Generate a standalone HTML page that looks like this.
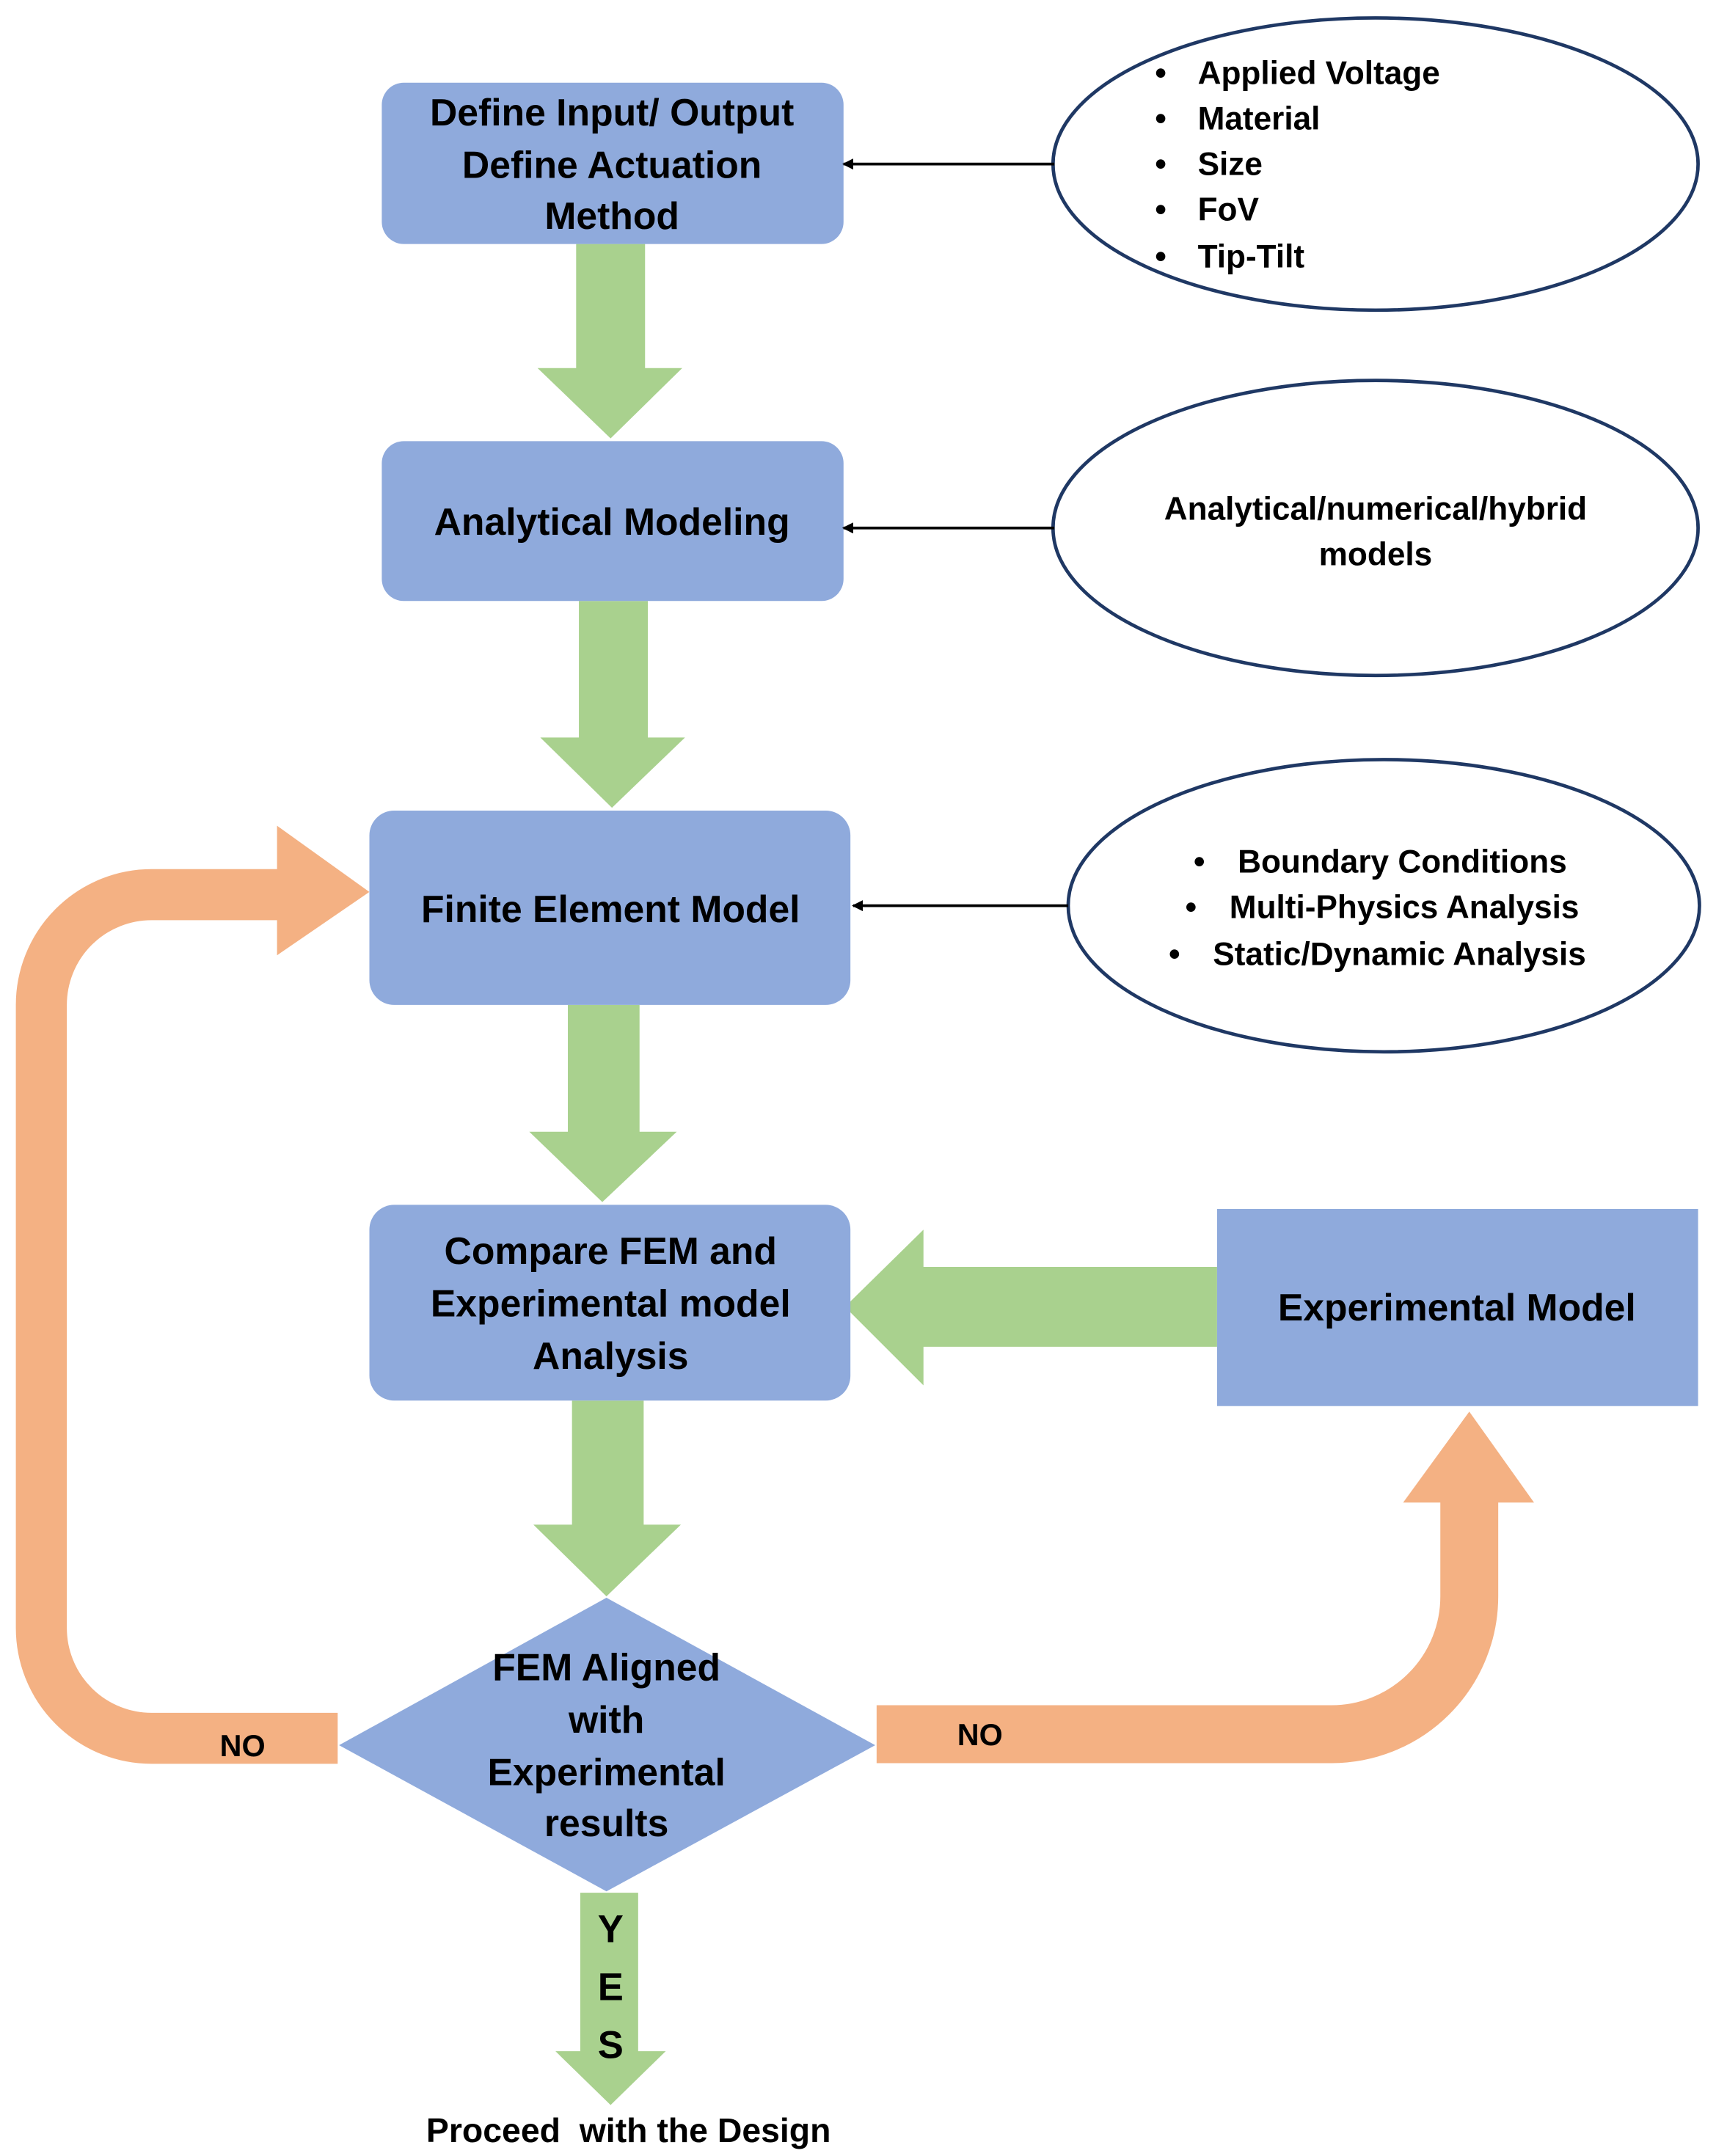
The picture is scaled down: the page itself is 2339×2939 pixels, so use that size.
<!DOCTYPE html>
<html><head><meta charset="utf-8"><style>
html,body{margin:0;padding:0;background:#fff}
svg{display:block}
text{font-family:"Liberation Sans",sans-serif;font-weight:bold;fill:#000}
</style></head><body>
<svg width="2339" height="2939" viewBox="0 0 1245 1564" preserveAspectRatio="none" xmlns="http://www.w3.org/2000/svg">
<defs><marker id="ah" markerWidth="8" markerHeight="8" refX="7" refY="4" orient="auto" markerUnits="userSpaceOnUse"><path d="M0,0 L8,4 L0,8 Z" fill="#000"/></marker></defs>
<path d="M245,1261 H110 A80 80 0 0 1 30,1181 V729 A80 80 0 0 1 110,649 H205" fill="none" stroke="#f4b183" stroke-width="37"/>
<polygon points="201,599 268,647 201,693" fill="#f4b183"/>
<path d="M636,1258 H966 A100 100 0 0 0 1066,1158 V1088" fill="none" stroke="#f4b183" stroke-width="42"/>
<polygon points="1018,1090 1113,1090 1066,1024" fill="#f4b183"/>
<text x="176" y="1274" font-size="22" text-anchor="middle">NO</text>
<text x="711" y="1266" font-size="22" text-anchor="middle">NO</text>
<g fill="#a9d18e">
<polygon points="418,177 468,177 468,267 495,267 443,318 390,267 418,267"/>
<polygon points="420,436 470,436 470,535 497,535 444,586 392,535 420,535"/>
<polygon points="412,729 464,729 464,821 491,821 437,872 384,821 412,821"/>
<polygon points="415,1016 467,1016 467,1106 494,1106 440,1158 387,1106 415,1106"/>
<polygon points="421,1373 463,1373 463,1488 483,1488 443,1527 403,1488 421,1488"/>
<polygon points="883,919 670,919 670,892 613,948 670,1005 670,977 883,977"/>
</g>
<g fill="#8faadc">
<rect x="277" y="60" width="335" height="117" rx="16"/>
<rect x="277" y="320" width="335" height="116" rx="16"/>
<rect x="268" y="588" width="349" height="141" rx="18"/>
<rect x="268" y="874" width="349" height="142" rx="18"/>
<rect x="883" y="877" width="349" height="143"/>
<polygon points="440,1159 635,1266 440,1372 246,1266"/>
</g>
<g font-size="27.5" text-anchor="middle">
<text x="444" y="91">Define Input/ Output</text>
<text x="444" y="129">Define Actuation</text>
<text x="444" y="166">Method</text>
<text x="444" y="388">Analytical Modeling</text>
<text x="443" y="669">Finite Element Model</text>
<text x="443" y="917">Compare FEM and</text>
<text x="443" y="955">Experimental model</text>
<text x="443" y="993">Analysis</text>
<text x="1057" y="958">Experimental Model</text>
<text x="440" y="1219">FEM Aligned</text>
<text x="440" y="1257">with</text>
<text x="440" y="1295">Experimental</text>
<text x="440" y="1332">results</text>
<text x="443" y="1409" font-size="28">Y</text>
<text x="443" y="1451" font-size="28">E</text>
<text x="443" y="1493" font-size="28">S</text>
<text x="456" y="1554" font-size="24.7" style="white-space:pre">Proceed  with the Design</text>
</g>
<g fill="#fff" stroke="#1f3864" stroke-width="2.5">
<ellipse cx="998" cy="119" rx="234" ry="106"/>
<ellipse cx="998" cy="383" rx="234" ry="107"/>
<ellipse cx="1004" cy="657" rx="229" ry="106"/>
</g>
<g stroke="#000" stroke-width="2">
<line x1="765" y1="119" x2="612" y2="119" marker-end="url(#ah)"/>
<line x1="765" y1="383" x2="612" y2="383" marker-end="url(#ah)"/>
<line x1="775" y1="657" x2="619" y2="657" marker-end="url(#ah)"/>
</g>
<g font-size="23.5">
<text x="838" y="61">•</text><text x="869" y="61">Applied Voltage</text>
<text x="838" y="94">•</text><text x="869" y="94">Material</text>
<text x="838" y="127">•</text><text x="869" y="127">Size</text>
<text x="838" y="160">•</text><text x="869" y="160">FoV</text>
<text x="838" y="194">•</text><text x="869" y="194">Tip-Tilt</text>
<text x="998" y="377" text-anchor="middle">Analytical/numerical/hybrid</text>
<text x="998" y="410" text-anchor="middle">models</text>
<text x="866" y="633">•</text><text x="898" y="633">Boundary Conditions</text>
<text x="860" y="666">•</text><text x="892" y="666">Multi-Physics Analysis</text>
<text x="848" y="700">•</text><text x="880" y="700">Static/Dynamic Analysis</text>
</g>
</svg>
</body></html>
